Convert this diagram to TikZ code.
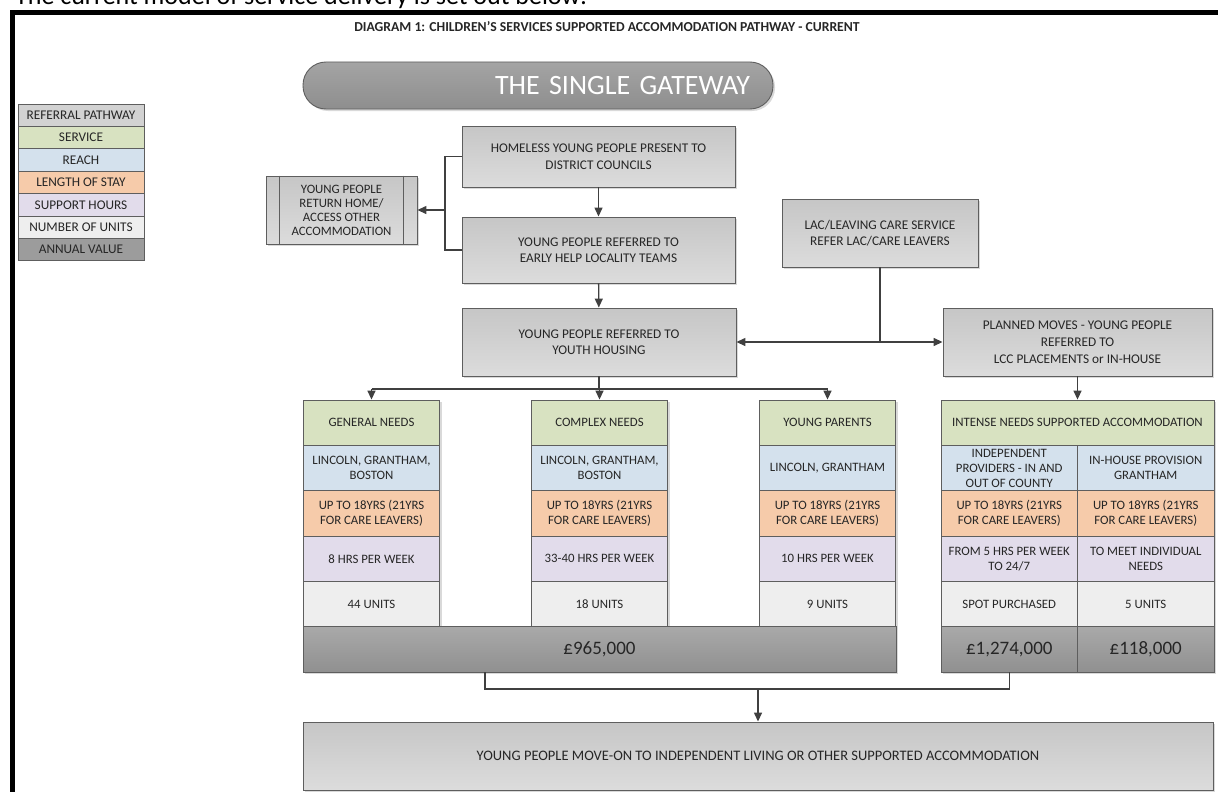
\documentclass[tikz,border=0pt]{standalone}
\usepackage{fontspec}
\setmainfont{Carlito}
\usetikzlibrary{arrows.meta,positioning,shadows}
\definecolor{edge}{HTML}{5E5E5E}
\definecolor{wire}{HTML}{404040}
\definecolor{ink}{HTML}{262626}
\definecolor{boxtop}{HTML}{C6C6C6}
\definecolor{boxbot}{HTML}{DCDCDC}
\definecolor{boxmid}{HTML}{D2D2D2}
\definecolor{svc}{HTML}{D8E2C1}
\definecolor{reach}{HTML}{D4E1ED}
\definecolor{stay}{HTML}{F6CBAA}
\definecolor{hours}{HTML}{E2DCEB}
\definecolor{units}{HTML}{EEEEEE}
\definecolor{valtop}{HTML}{A9A9A9}
\definecolor{valbot}{HTML}{909090}
\definecolor{valmid}{HTML}{9C9C9C}
\definecolor{gatetop}{HTML}{A4A4A4}
\definecolor{gatebot}{HTML}{8E8E8E}
\tikzset{
  softshadow/.style={drop shadow={shadow xshift=2pt,shadow yshift=-2pt,fill=black,opacity=.15}},
  pathbox/.style={draw=edge,line width=.9pt,top color=boxtop,bottom color=boxbot,softshadow,
    text=ink,align=center,inner sep=0pt,font=\fontsize{13.3}{16.5}\selectfont},
  cell/.style={draw=edge,line width=.9pt,softshadow,text=ink,align=center,inner sep=0pt,
    minimum width=136.5pt,minimum height=45.33pt,font=\fontsize{12.8}{15}\selectfont},
  valfill/.style={top color=valtop,bottom color=valbot,font=\fontsize{19}{22}\selectfont},
  legend/.style={draw=edge,line width=.8pt,text=ink,inner sep=0pt,minimum width=126pt,
    minimum height=22.4pt,font=\fontsize{13.3}{15}\selectfont},
  wire/.style={draw=wire,line width=1.4pt},
  arr/.style={wire,-{Triangle[length=9pt,width=8pt]}},
  arrs/.style={wire,{Triangle[length=9pt,width=8pt]}-{Triangle[length=9pt,width=8pt]}}
}
\newcommand\colcells[6]{%
\node[cell,fill=reach] (#1r) at (#2,468) {#3};
\node[cell,fill=stay] (#1l) at (#2,513.3) {#4};
\node[cell,fill=hours] (#1h) at (#2,558.7) {#5};
\node[cell,fill=units] (#1u) at (#2,604) {#6};}
\begin{document}
\begin{tikzpicture}[x=1pt,y=-1pt]
\useasboundingbox (0,0) rectangle (1218,792);
\draw[line width=5pt] (12.5,830) -- (12.5,12.5) -- (1240,12.5);
\node[anchor=base west,inner sep=0pt,font=\fontsize{26}{30}\selectfont] (intro) at (15,5) {The current model of service delivery is set out below:};
\node[text=ink,font=\bfseries\fontsize{13.7}{16}\selectfont] (title) at (607,27) {DIAGRAM 1: CHILDREN’S SERVICES SUPPORTED ACCOMMODATION PATHWAY - CURRENT};

\foreach \t/\f [count=\i] in {REFERRAL PATHWAY/boxmid,SERVICE/svc,REACH/reach,LENGTH OF STAY/stay,SUPPORT HOURS/hours,NUMBER OF UNITS/units,ANNUAL VALUE/valmid}
  \node[legend,fill=\f] (leg\i) at (81,{92.8+22.4*\i}) {\t};

\node[draw=edge,line width=.9pt,rounded corners=23pt,top color=gatetop,bottom color=gatebot,softshadow,
  text=white,minimum height=47pt,text width=424pt,inner xsep=23pt,inner ysep=0pt,align=right,
  font=\fontsize{28}{30}\selectfont] (gate) at (538,85.5) {THE SINGLE GATEWAY};

\node[pathbox,minimum width=273pt,minimum height=61pt] (home) at (598.5,156.5) {HOMELESS YOUNG PEOPLE PRESENT TO\\DISTRICT COUNCILS};
\node[pathbox,minimum width=273pt,minimum height=66pt] (early) at (598.5,250) {YOUNG PEOPLE REFERRED TO\\EARLY HELP LOCALITY TEAMS};
\node[pathbox,minimum width=151pt,minimum height=68pt,font=\fontsize{12.8}{14}\selectfont] (ret) at (341.5,210) {YOUNG PEOPLE\\RETURN HOME/\\ACCESS OTHER\\ACCOMMODATION};
\draw[draw=edge,line width=.9pt] ([xshift=14pt]ret.north west) -- ([xshift=14pt]ret.south west)
  ([xshift=-14pt]ret.north east) -- ([xshift=-14pt]ret.south east);
\node[pathbox,minimum width=196pt,minimum height=68pt] (lac) at (880,233) {LAC/LEAVING CARE SERVICE\\REFER LAC/CARE LEAVERS};
\node[pathbox,minimum width=274pt,minimum height=68pt] (youth) at (599,342) {YOUNG PEOPLE REFERRED TO\\YOUTH HOUSING};
\node[pathbox,minimum width=269pt,minimum height=68pt,font=\fontsize{13.3}{17}\selectfont] (plan) at (1077.5,342) {PLANNED MOVES - YOUNG PEOPLE\\REFERRED TO\\LCC PLACEMENTS or IN-HOUSE};

\node[cell,fill=svc] (gen) at (371.5,422.7) {GENERAL NEEDS};
\node[cell,fill=svc] (cpx) at (599.5,422.7) {COMPLEX NEEDS};
\node[cell,fill=svc] (par) at (827.5,422.7) {YOUNG PARENTS};
\node[cell,fill=svc,minimum width=273pt] (int) at (1077.5,422.7) {INTENSE NEEDS SUPPORTED ACCOMMODATION};
\colcells{gen}{371.5}{LINCOLN, GRANTHAM,\\BOSTON}{UP TO 18YRS (21YRS\\FOR CARE LEAVERS)}{8 HRS PER WEEK}{44 UNITS}
\colcells{cpx}{599.5}{LINCOLN, GRANTHAM,\\BOSTON}{UP TO 18YRS (21YRS\\FOR CARE LEAVERS)}{33-40 HRS PER WEEK}{18 UNITS}
\colcells{par}{827.5}{LINCOLN, GRANTHAM}{UP TO 18YRS (21YRS\\FOR CARE LEAVERS)}{10 HRS PER WEEK}{9 UNITS}
\colcells{ind}{1009.25}{INDEPENDENT\\PROVIDERS - IN AND\\OUT OF COUNTY}{UP TO 18YRS (21YRS\\FOR CARE LEAVERS)}{FROM 5 HRS PER WEEK\\TO 24/7}{SPOT PURCHASED}
\colcells{inh}{1145.75}{IN-HOUSE PROVISION\\GRANTHAM}{UP TO 18YRS (21YRS\\FOR CARE LEAVERS)}{TO MEET INDIVIDUAL\\NEEDS}{5 UNITS}
\node[cell,valfill,minimum width=593pt] (val) at (599.5,649.3) {£965,000};
\node[cell,valfill] (indv) at (1009.25,649.3) {£1,274,000};
\node[cell,valfill] (inhv) at (1145.75,649.3) {£118,000};

\node[pathbox,minimum width=910pt,minimum height=68pt,font=\fontsize{14.5}{17}\selectfont] (move) at (758,756) {YOUNG PEOPLE MOVE-ON TO INDEPENDENT LIVING OR OTHER SUPPORTED ACCOMMODATION};

\coordinate (fork) at (445,210);
\draw[wire] (home.west) -| (fork) |- (early.west);
\draw[arr] (fork) -- (ret);
\draw[arr] (home) -- (early);
\draw[arr] (early) -- (youth);
\draw[arrs] (youth) -- (plan);
\draw[wire] (lac) -- (lac |- youth);
\coordinate (rail) at (599,389);
\draw[wire] (youth) -- (rail);
\draw[wire] (gen |- rail) -- (par |- rail);
\foreach \c in {gen,cpx,par} \draw[arr] (\c |- rail) -- (\c);
\draw[arr] (plan) -- (int);
\coordinate (vtap) at (485,672);
\coordinate (join) at (758,689);
\draw[wire] (vtap) |- (join) -| (indv.south);
\draw[arr] (join) -- (move);
\end{tikzpicture}
\end{document}
